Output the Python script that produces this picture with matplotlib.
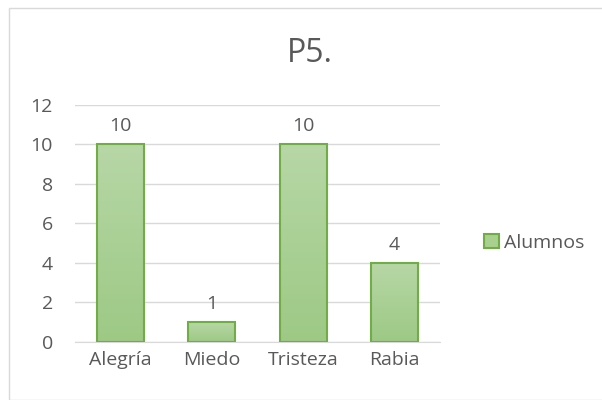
import numpy as np
import matplotlib
matplotlib.use('Agg')
import matplotlib.pyplot as plt
from matplotlib.colors import LinearSegmentedColormap
from matplotlib.patches import Rectangle, Patch

categories = ['Alegría', 'Miedo', 'Tristeza', 'Rabia']
alumnos = [10, 1, 10, 4]
title = 'P5.'
series_name = 'Alumnos'

plt.rcParams['font.family'] = ['Open Sans', 'DejaVu Sans']
grey = '#595959'
fs = 14

fig = plt.figure(figsize=(6.02, 4.0), dpi=100)
fig.patches.append(Rectangle((9 / 602, 0), 1, 392 / 400, transform=fig.transFigure,
                             fill=False, edgecolor='#d9d9d9', linewidth=1))
ax = fig.add_axes([0.1246, 0.1458, 0.6063, 0.5925])

x = np.arange(len(categories))
bars = ax.bar(x, alumnos, width=0.515, color='none', edgecolor='#70ad47', linewidth=1.5, zorder=3)

cmap = LinearSegmentedColormap.from_list('g', ['#9dc985', '#b7d7a6'])
grad = np.linspace(0, 1, 100).reshape(-1, 1)
for b in bars:
    x0, y0 = b.get_x(), b.get_y()
    w, h = b.get_width(), b.get_height()
    im = ax.imshow(grad, cmap=cmap, origin='lower', aspect='auto',
                   extent=[x0, x0 + w, y0, y0 + h], zorder=2)
    im.set_clip_path(b)

for xi, v in zip(x, alumnos):
    ax.text(xi, v + 0.45, str(v), ha='center', va='bottom', fontsize=fs, color=grey)

ax.set_xlim(-0.5, len(categories) - 0.5)
ax.set_ylim(0, 12)
ax.set_yticks(range(0, 13, 2))
ax.set_xticks(x)
ax.set_xticklabels(categories)
ax.tick_params(axis='both', length=0, labelsize=fs, labelcolor=grey)
ax.tick_params(axis='y', pad=16)
ax.tick_params(axis='x', pad=7)
ax.grid(axis='y', color='#d9d9d9', linewidth=1, zorder=0)
ax.set_axisbelow(True)
for s in ['top', 'right', 'left']:
    ax.spines[s].set_visible(False)
ax.spines['bottom'].set_color('#d9d9d9')

fig.text(0.515, 0.8675, title, ha='center', va='center', fontsize=23, color=grey)

handle = Patch(facecolor='#a9d08e', edgecolor='#70ad47', linewidth=1.5)
fig.legend([handle], [series_name], loc='center left', bbox_to_anchor=(0.775, 0.3925),
           frameon=False, fontsize=fs, labelcolor=grey, handlelength=0.75,
           handleheight=0.75, handletextpad=0.3)

fig.savefig('out.png', dpi=100)
